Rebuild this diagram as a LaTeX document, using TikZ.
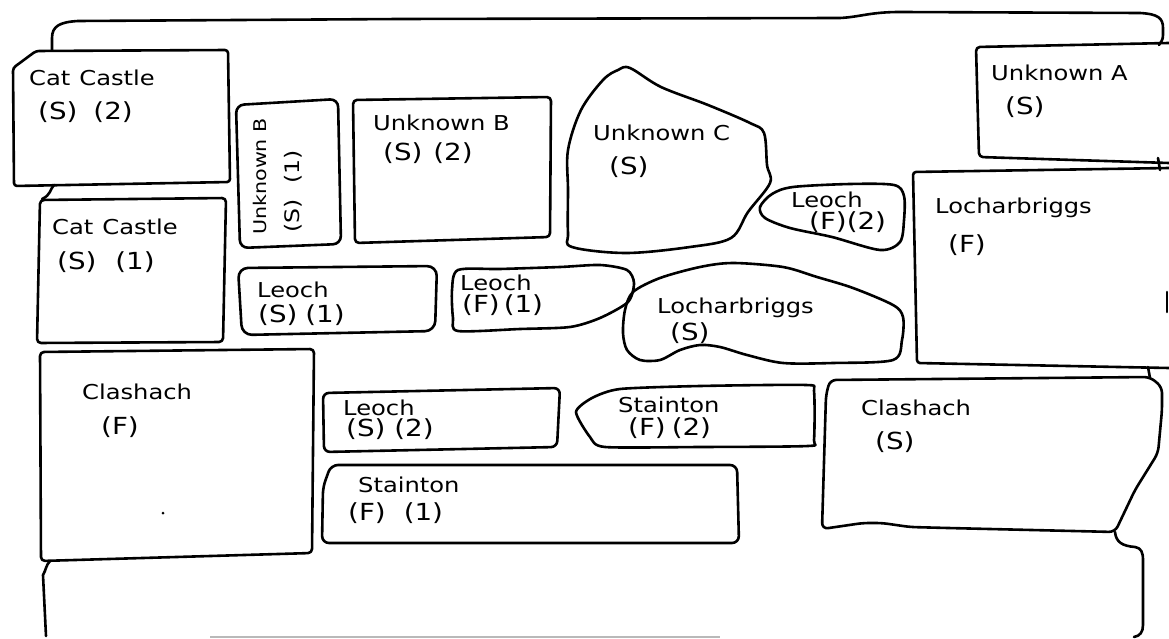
\documentclass[tikz,border=0pt]{standalone}
\usepackage{fontspec}
\setmainfont{DejaVu Sans}[FakeStretch=1.18]
\newcommand\handfont{\fontsize{20.5}{24}\selectfont}
\newcommand\parenfont{\fontsize{23.5}{26}\selectfont}
\newcommand\smallhand{\fontsize{17.5}{21}\selectfont}
\newcommand\smallparen{\fontsize{20}{23}\selectfont}
\tikzset{
  outline/.style={line width=2.6pt, line join=round, line cap=round},
  lbl/.style={inner sep=0pt, anchor=west, font=\handfont},
  plbl/.style={inner sep=0pt, anchor=west, font=\parenfont},
}
\begin{document}
\begin{tikzpicture}[x=1pt,y=-1pt]
\useasboundingbox (0,0) rectangle (1169,639);
\fill[white] (0,0) rectangle (1169,639);

% outer frame pieces
\draw[outline] (52,50) -- (52,38) .. controls (52,26) and (60,22) .. (78,21) -- (400,19) -- (840,18) .. controls (860,17) and (870,12) .. (900,12) -- (1140,13) .. controls (1158,14) and (1163,18) .. (1163,28) -- (1163,35) .. controls (1163,40) and (1161,42) .. (1159,45);
\draw[outline] (54,185) .. controls (50,189) and (51,195) .. (42,199);
\draw[outline] (50,561) .. controls (46,565) and (46,570) .. (43,575) -- (46,636);
\draw[outline] (1158,158) -- (1160,170);
\draw[outline] (1148,367) -- (1150,378);
\draw[outline] (1115,532) .. controls (1116,542) and (1122,546) .. (1135,547) .. controls (1141,548) and (1143,552) .. (1143,560) -- (1143,625) .. controls (1143,632) and (1140,636) .. (1134,637);
\draw[line width=2.6pt, gray!55] (210,637) -- (720,637);
\draw[outline] (1167,292) -- (1167,312);

% rectangular stones
\draw[outline, rounded corners=3pt] (13,68) -- (36,51) -- (228,50) -- (230,182) -- (14,186) -- cycle;
\draw[outline, rounded corners=4pt] (40,200) -- (226,198) -- (223,342) -- (37,343) -- cycle;
\draw[outline, rounded corners=4pt] (40,352) -- (314,349) -- (312,553) -- (41,561) -- cycle;
\fill (163,513) circle (1.5);
\draw[outline, rounded corners=8pt] (236,105) -- (338,99) -- (341,244) -- (240,248) -- cycle;
\draw[outline, rounded corners=4pt] (353,100) -- (551,97) -- (550,237) -- (355,243) -- cycle;
\draw[outline, rounded corners=10pt] (238,268) -- (437,266) -- (435,331) -- (242,335) -- cycle;
\draw[outline, rounded corners=6pt] (323,393) -- (560,388) -- (557,447) -- (324,452) -- cycle;
\draw[outline, rounded corners=7pt] (331,465) -- (737,465) -- (739,543) -- (322,543) -- (323,487) -- cycle;
\draw[outline, rounded corners=4pt] (1169,43) -- (976,47) -- (979,157) -- (1169,163);
\draw[outline, rounded corners=3pt] (1169,168) -- (913,172) -- (917,363) -- (1169,368);
\draw[outline, rounded corners=6pt] (830,380) -- (1150,377) -- (1162,387) -- (1162,410) -- (1158,453) -- (1135,490) -- (1115,532) -- (948,528) -- (910,527) -- (882,523) -- (863,523) -- (822,529) -- (826,395) -- cycle;

% irregular stones
\draw[outline] plot[smooth cycle, tension=0.55] coordinates {(630,68) (661,87) (708,105) (750,123) (764,133) (767,165) (770,183) (748,212) (731,238) (690,247) (626,253) (572,247) (568,233) (568,190) (568,150) (581,110) (603,80) (618,70)};
\draw[outline] plot[smooth cycle, tension=0.5] coordinates {(760,207) (772,194) (793,187) (850,184) (894,185) (904,196) (904,220) (900,242) (880,250) (832,237) (790,228) (765,218)};
\draw[outline] plot[smooth cycle, tension=0.5] coordinates {(633,292) (660,278) (700,267) (733,263) (783,267) (817,277) (853,288) (893,305) (903,317) (902,340) (893,360) (833,363) (783,363) (747,355) (720,347) (700,345) (680,350) (660,360) (640,360) (627,350) (623,333) (625,310)};
\draw[outline] plot[smooth cycle, tension=0.45] coordinates {(458,270) (500,269) (560,267) (600,265) (627,270) (634,283) (628,302) (600,318) (570,327) (520,329) (458,331) (453,318) (452,290)};
\draw[outline] plot[smooth cycle, tension=0.4] coordinates {(576,412) (592,398) (620,389) (700,386) (806,385) (814,391) (814,440) (808,446) (700,447) (605,447) (590,437)};

% labels
\node[lbl] (t1a) at (29,78) {Cat\hspace{9pt}Castle};
\node[plbl] (t1b) at (38,112) {(S)\hspace{16pt}(2)};
\node[lbl] (t2a) at (52,227) {Cat\hspace{9pt}Castle};
\node[plbl] (t2b) at (57,262) {(S)\hspace{19pt}(1)};
\node[lbl] (t3a) at (82,392) {Clashach};
\node[plbl] (t3b) at (101,427) {(F)};
\node[lbl, rotate=90, font=\smallhand] (t4a) at (260,235) {Unknown B};
\node[plbl, rotate=90, font=\smallparen] (t4b) at (293,233) {(S)\hspace{16pt}(1)};
\node[lbl] (t5a) at (373,123) {Unknown B};
\node[plbl] (t5b) at (383,153) {(S)\hspace{11pt}(2)};
\node[lbl] (t6a) at (593,133) {Unknown C};
\node[plbl] (t6b) at (609,167) {(S)};
\node[lbl] (t7a) at (791,200) {Leoch};
\node[plbl] (t7b) at (809,222) {(F)(2)};
\node[lbl] (t8a) at (991,73) {Unknown A};
\node[plbl] (t8b) at (1005,107) {(S)};
\node[lbl] (t9a) at (935,208) {Locharbriggs};
\node[plbl] (t9b) at (948,245) {(F)};
\node[lbl] (t10a) at (257,290) {Leoch};
\node[plbl] (t10b) at (258,315) {(S)\hspace{8pt}(1)};
\node[lbl] (t11a) at (460,283) {Leoch};
\node[plbl] (t11b) at (462,305) {(F)\hspace{4pt}(1)};
\node[lbl] (t12a) at (657,308) {Locharbriggs};
\node[plbl] (t12b) at (670,333) {(S)};
\node[lbl] (t13a) at (343,408) {Leoch};
\node[plbl] (t13b) at (346,429) {(S)\hspace{9pt}(2)};
\node[lbl] (t14a) at (618,405) {Stainton};
\node[plbl] (t14b) at (628,428) {(F)\hspace{6pt}(2)};
\node[lbl] (t15a) at (861,408) {Clashach};
\node[plbl] (t15b) at (875,442) {(S)};
\node[lbl] (t16a) at (358,485) {Stainton};
\node[plbl] (t16b) at (348,513) {(F)\hspace{18pt}(1)};
\end{tikzpicture}
\end{document}
